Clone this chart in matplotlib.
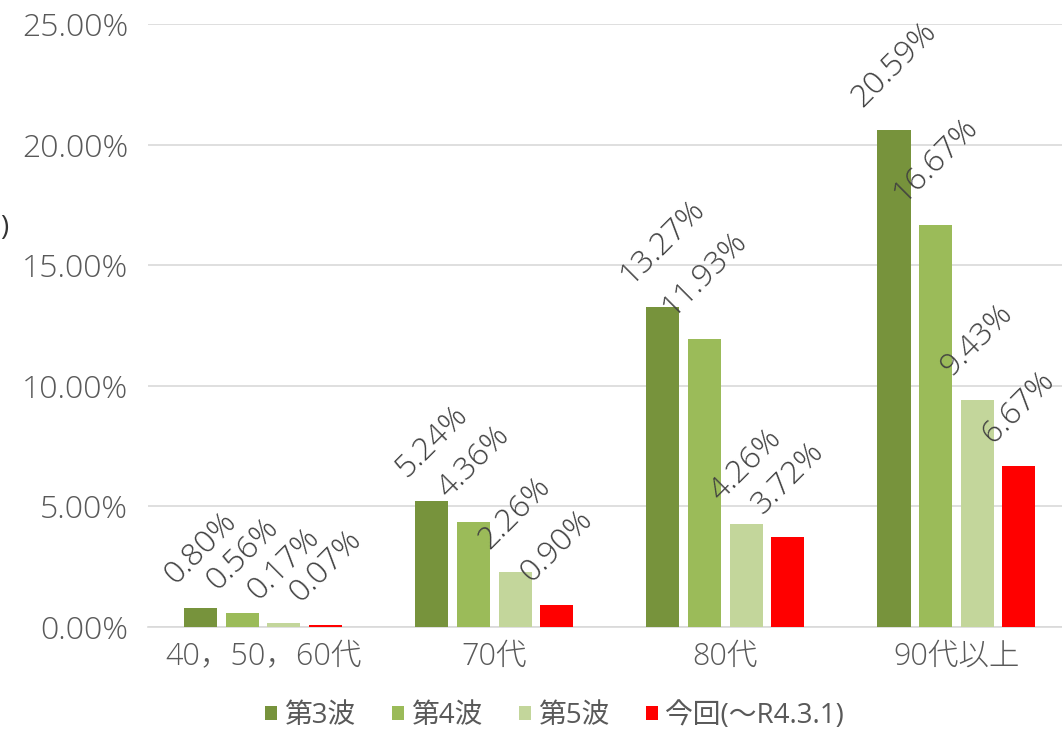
import matplotlib.pyplot as plt
import numpy as np
from matplotlib.ticker import FuncFormatter

plt.rcParams['font.family'] = ['Open Sans', 'Noto Sans CJK JP', 'DejaVu Sans']

categories = ['40，50，60代', '70代', '80代', '90代以上']
series_names = ['第3波', '第4波', '第5波', '今回(～R4.3.1)']
wave3 = [0.80, 5.24, 13.27, 20.59]
wave4 = [0.56, 4.36, 11.93, 16.67]
wave5 = [0.17, 2.26, 4.26, 9.43]
current = [0.07, 0.90, 3.72, 6.67]
colors = ['#77933C', '#9BBB59', '#C3D69B', '#FF0000']

fig = plt.figure(figsize=(10.62, 7.29), dpi=100)
ax = fig.add_axes([0.139, 0.14, 0.861, 0.827])

x = np.arange(len(categories))
pitch = 0.18
width = 0.143
for i, (vals, name, col) in enumerate(zip([wave3, wave4, wave5, current], series_names, colors)):
    pos = x + (i - 1.5) * pitch
    ax.bar(pos, vals, width=width, color=col, label=name, zorder=3)
    for p, v in zip(pos, vals):
        ax.annotate(f'{v:.2f}%', (p, v), xytext=(0, 12), textcoords='offset points',
                    ha='center', va='bottom', rotation=45, fontsize=23,
                    fontweight='light', color='#404040')

ax.set_xlim(-0.5, 3.457)
ax.set_ylim(0, 25)
ax.set_yticks(np.arange(0, 26, 5))
ax.yaxis.set_major_formatter(FuncFormatter(lambda v, _: f'{v:.2f}%'))
ax.set_xticks(x)
ax.set_xticklabels(categories)
ax.tick_params(axis='y', length=0, labelsize=23, labelcolor='#595959', pad=14)
ax.tick_params(axis='x', length=0, labelsize=22, labelcolor='#595959', pad=10)
for lbl in ax.get_xticklabels() + ax.get_yticklabels():
    lbl.set_fontweight('light')
ax.grid(axis='y', color='#D9D9D9', linewidth=1.2, zorder=0)
for s in ['top', 'right', 'left']:
    ax.spines[s].set_visible(False)
ax.spines['bottom'].set_color('#D9D9D9')
ax.spines['bottom'].set_linewidth(1.2)

leg = fig.legend(loc='center', bbox_to_anchor=(0.522, 0.018), ncol=4, frameon=False,
                 fontsize=20, handlelength=0.45, handleheight=0.45, handletextpad=0.25,
                 columnspacing=1.3, labelcolor='#595959')

fig.text(0.0, 0.687, ')', fontsize=20, color='#333333', ha='left', va='center')

fig.savefig('out.png', dpi=100)
